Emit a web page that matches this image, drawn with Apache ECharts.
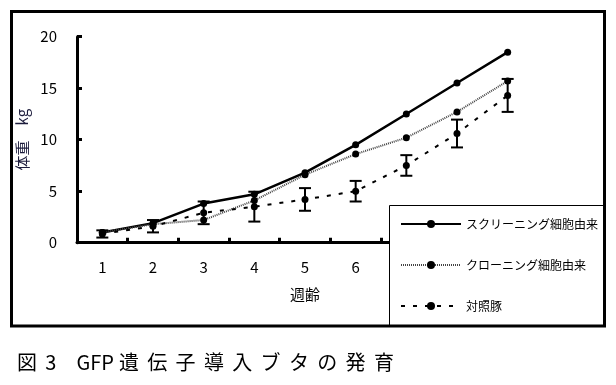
<!DOCTYPE html>
<html><head><meta charset="utf-8">
<script src="https://cdn.jsdelivr.net/npm/echarts@6/dist/echarts.min.js"></script>
<style>html,body{margin:0;padding:0;background:#fff}#c{width:616px;height:385px}</style>
</head><body><div id="c"></div>
<script>
var weeks = ['1','2','3','4','5','6','7','8','9'];
var yTicks = [0, 5, 10, 15, 20];
var screening = [1.0, 1.9, 3.8, 4.7, 6.8, 9.5, 12.5, 15.5, 18.5];
var cloning   = [1.0, 1.8, 2.2, 4.1, 6.6, 8.6, 10.2, 12.7, 15.7];
var control   = [0.85, 1.6, 2.9, 3.5, 4.2, 5.0, 7.5, 10.6, 14.3];
var controlErr = [0.35, 0.6, 1.1, 1.45, 1.1, 1.0, 1.0, 1.35, 1.6];
var seriesNames = ['スクリーニング細胞由来', 'クローニング細胞由来', '対照豚'];
var captionParts = ['図', '3', 'GFP', '遺伝子導入ブタの発育'];

var SP = '\u2005\u2006';
var captionText = captionParts[0] + SP + captionParts[1] + '\u3000' + captionParts[2] + '\u2005' +
  captionParts[3].split('').join(SP);

var FONT = '"Noto Sans CJK JP", "Noto Sans", sans-serif';
var errData = control.map(function (v, i) { return [i, v - controlErr[i], v + controlErr[i]]; });

var chart = echarts.init(document.getElementById('c'), null, {renderer: 'canvas'});
chart.setOption({
  animation: false,
  backgroundColor: '#fff',
  title: {
    text: captionText, left: 17, top: 352, padding: 0,
    textStyle: {fontFamily: FONT, fontSize: 20, fontWeight: 'normal', color: '#000'}
  },
  grid: {left: 77, right: 83, top: 36.7, bottom: 142.3, containLabel: false},
  xAxis: {
    type: 'category', data: weeks, boundaryGap: true,
    name: '週齢', nameLocation: 'middle', nameGap: 44,
    nameTextStyle: {fontFamily: FONT, fontSize: 15, color: '#000'},
    axisLine: {lineStyle: {color: '#000', width: 3}},
    axisTick: {show: true, inside: true, length: 5, lineStyle: {color: '#000', width: 3}},
    axisLabel: {margin: 17, fontFamily: FONT, fontSize: 15, color: '#000'},
    splitLine: {show: false}
  },
  yAxis: {
    type: 'value', min: yTicks[0], max: yTicks[yTicks.length - 1], interval: 5,
    name: '体重\u3000kg', nameLocation: 'middle', nameGap: 45, nameRotate: 90,
    nameTextStyle: {fontFamily: FONT, fontSize: 15, color: '#1c1c3c'},
    axisLine: {show: true, lineStyle: {color: '#000', width: 3}},
    axisTick: {show: true, inside: true, length: 5, lineStyle: {color: '#000', width: 3}},
    axisLabel: {margin: 20, fontFamily: FONT, fontSize: 15, color: '#000'},
    splitLine: {show: false}
  },
  legend: {
    orient: 'vertical', left: 400, top: 218, z: 100, padding: 0,
    itemWidth: 60, itemHeight: 10, itemGap: 29,
    textStyle: {fontFamily: FONT, fontSize: 12, color: '#000'},
    data: seriesNames
  },
  graphic: {elements: [
    {type: 'rect', z: 50, shape: {x: 389.5, y: 205.5, width: 215, height: 121},
     style: {fill: '#fff', stroke: '#000', lineWidth: 1}},
    {type: 'rect', z: 60, shape: {x: 11.5, y: 11.5, width: 593, height: 314.5},
     style: {fill: null, stroke: '#000', lineWidth: 3}}
  ]},
  series: [
    {name: seriesNames[0], type: 'line', data: screening, symbol: 'circle', symbolSize: 7,
     itemStyle: {color: '#000'}, lineStyle: {color: '#000', width: 2.5}, z: 3},
    {name: seriesNames[1], type: 'line', data: cloning, symbol: 'circle', symbolSize: 7,
     itemStyle: {color: '#000'}, lineStyle: {color: '#444', width: 2, type: [1, 1]}, z: 3},
    {name: seriesNames[2], type: 'line', data: control, symbol: 'circle', symbolSize: 7,
     itemStyle: {color: '#000'}, lineStyle: {color: '#000', width: 2, type: [4, 8]}, z: 3},
    {type: 'custom', data: errData, z: 4,
     renderItem: function (params, api) {
       var x = api.value(0);
       var lo = api.coord([x, api.value(1)]);
       var hi = api.coord([x, api.value(2)]);
       var hw = 6;
       var st = {stroke: '#000', lineWidth: 2};
       return {type: 'group', children: [
         {type: 'line', shape: {x1: lo[0], y1: lo[1], x2: hi[0], y2: hi[1]}, style: st},
         {type: 'line', shape: {x1: lo[0] - hw, y1: lo[1], x2: lo[0] + hw, y2: lo[1]}, style: st},
         {type: 'line', shape: {x1: hi[0] - hw, y1: hi[1], x2: hi[0] + hw, y2: hi[1]}, style: st}
       ]};
     },
     encode: {x: 0, y: [1, 2]}
    }
  ]
});
</script></body></html>
